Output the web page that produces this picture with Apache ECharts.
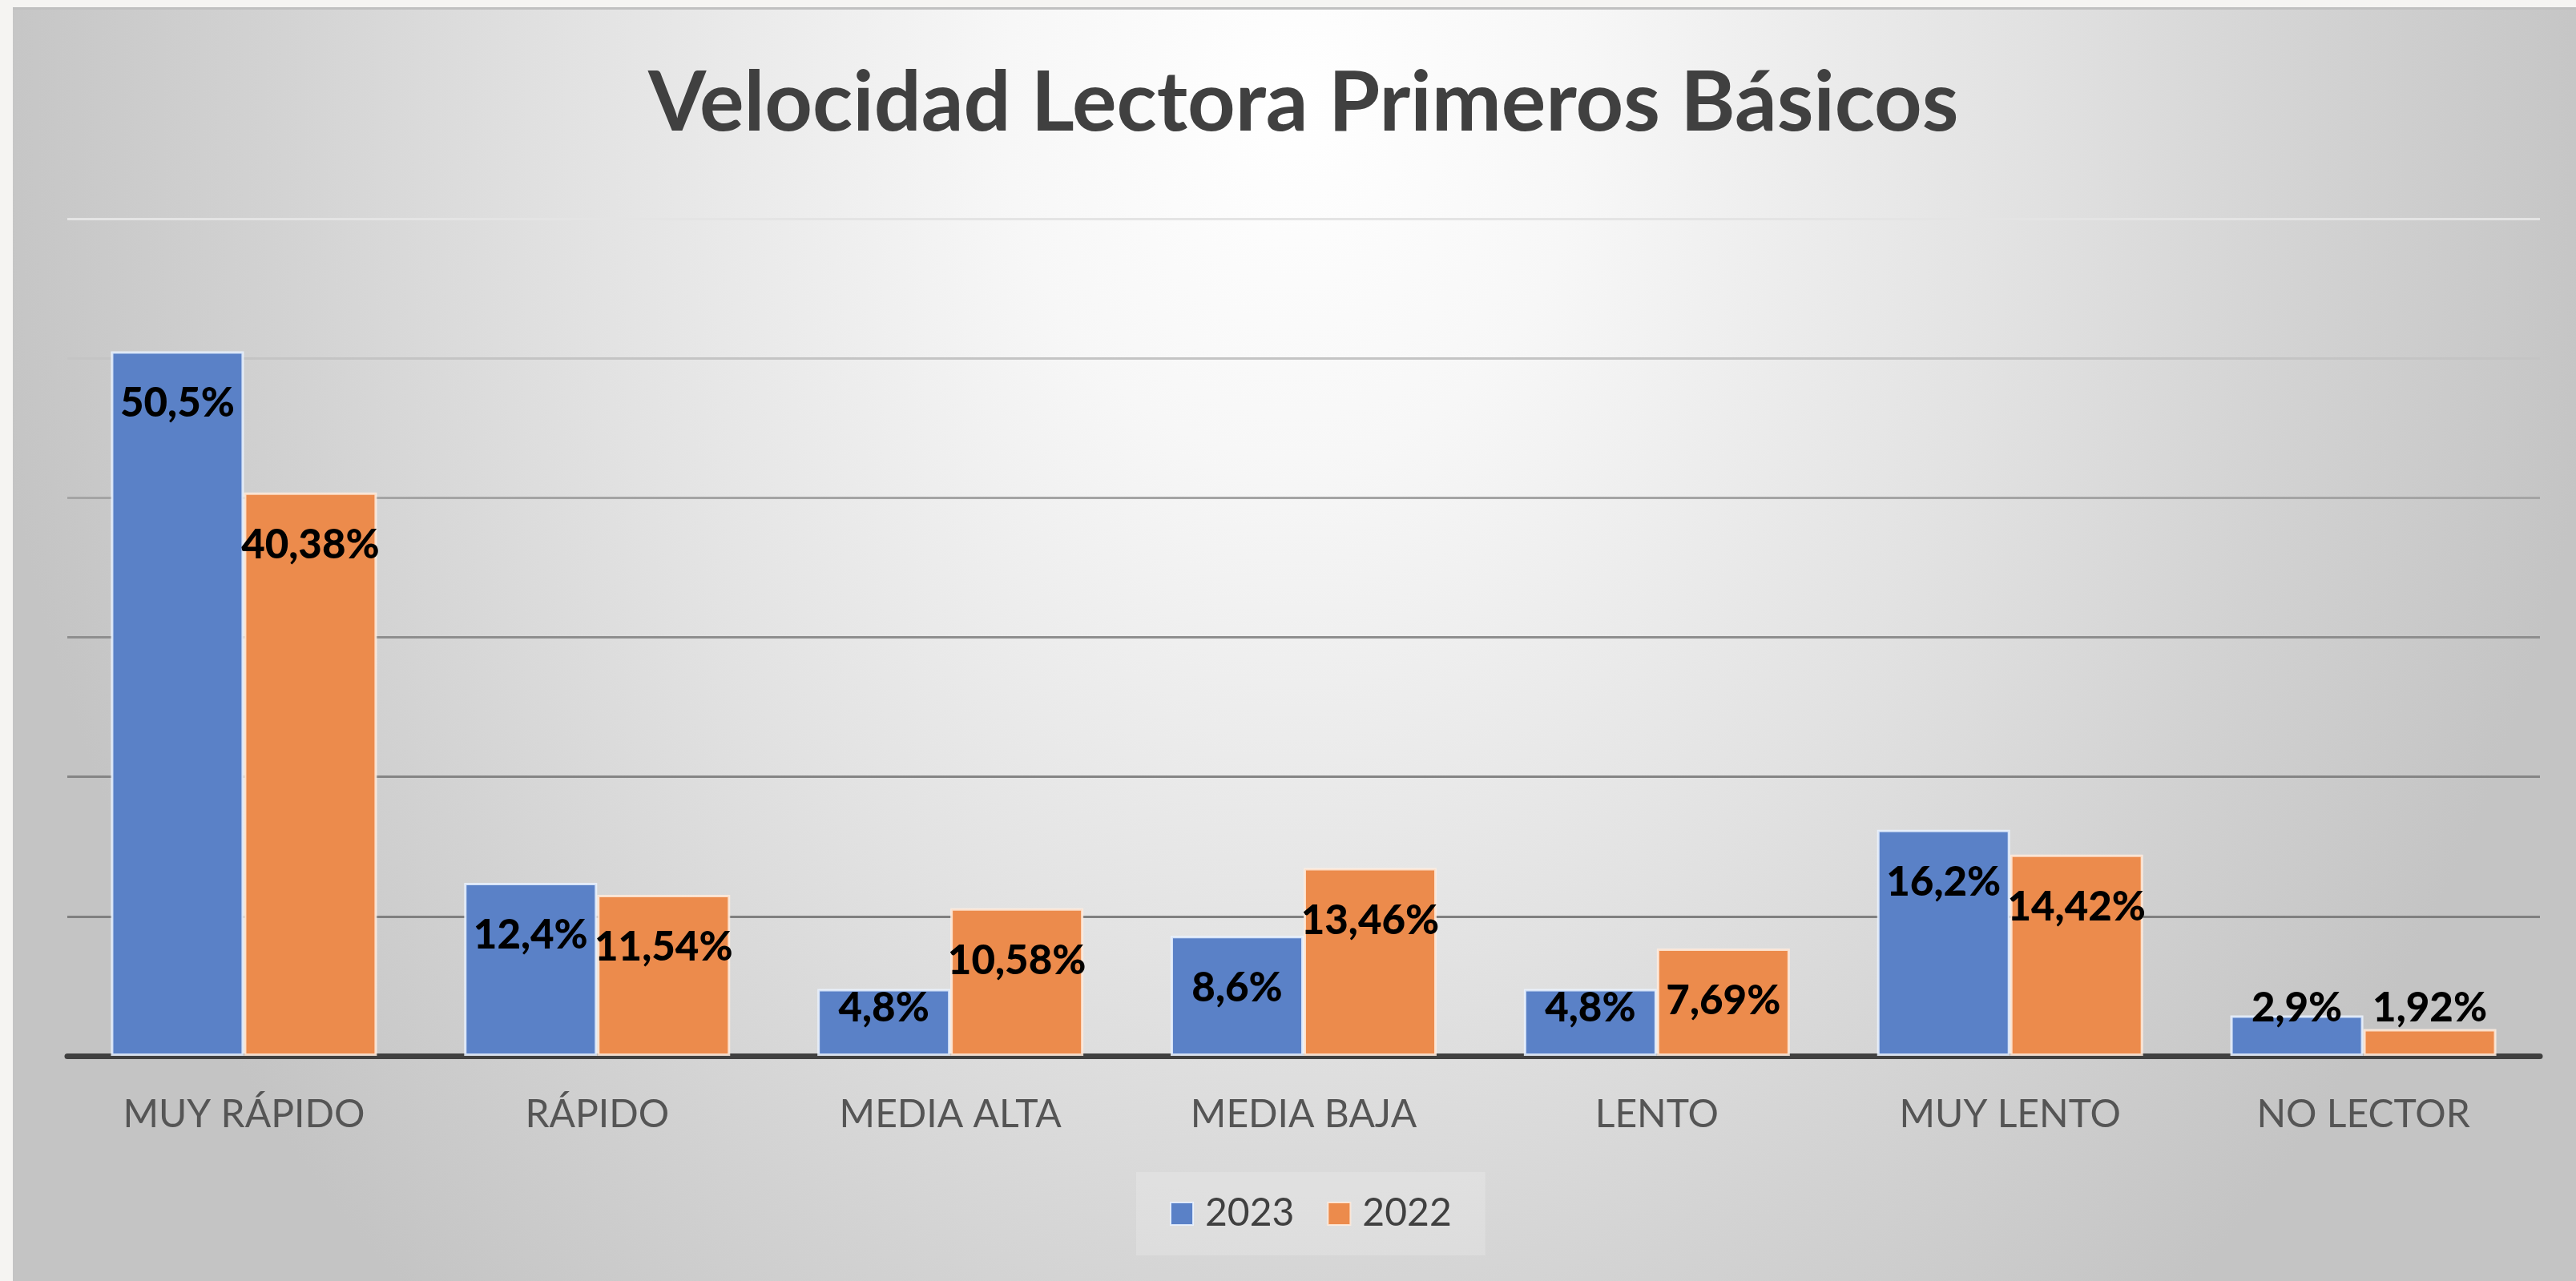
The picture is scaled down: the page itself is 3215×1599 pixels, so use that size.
<!DOCTYPE html>
<html>
<head>
<meta charset="utf-8">
<script src="https://cdn.jsdelivr.net/npm/echarts@6/dist/echarts.min.js"></script>
<style>
  html, body { margin: 0; padding: 0; width: 3215px; height: 1599px; background: #f5f4f2; overflow: hidden; }
  #chart {
    position: absolute; left: 16px; top: 9px; width: 3199px; height: 1590px;
    background: radial-gradient(ellipse 1650px 2000px at 1600px 120px, #ffffff 0%, #f7f7f7 22%, #e2e2e2 55%, #d2d2d2 78%, #c4c4c4 100%);
    border-top: 3px solid #c0c0c0; box-sizing: border-box;
  }
</style>
</head>
<body>
<div id="chart"></div>
<script>
const title = 'Velocidad Lectora Primeros Básicos';
const categories = ['MUY RÁPIDO', 'RÁPIDO', 'MEDIA ALTA', 'MEDIA BAJA', 'LENTO', 'MUY LENTO', 'NO LECTOR'];
const seriesNames = ['2023', '2022'];
const values2023 = [50.5, 12.4, 4.8, 8.6, 4.8, 16.2, 2.9];
const values2022 = [40.38, 11.54, 10.58, 13.46, 7.69, 14.42, 1.92];
const yTicks = [0, 10, 20, 30, 40, 50, 60];

const FONT = 'Lato, "Open Sans", sans-serif';

function mkData(vals) {
  return vals.map(v => ({
    value: v,
    label: v >= 6 ? { position: 'insideTop', distance: 40 } : { position: 'insideBottom', distance: 34 }
  }));
}
const labelStyle = {
  show: true,
  color: '#000000',
  fontFamily: FONT,
  fontWeight: 900,
  fontSize: 51,
  formatter: p => String(p.value).replace('.', ',') + '%'
};

const chart = echarts.init(document.getElementById('chart'), null, { renderer: 'canvas' });
chart.setOption({
  backgroundColor: 'transparent',
  animation: false,
  title: {
    text: title,
    left: 788,
    top: 60,
    textStyle: { fontFamily: FONT, fontWeight: 'bold', fontSize: 104, color: '#404040' }
  },
  legend: {
    data: seriesNames,
    left: 1402,
    top: 1451,
    padding: [28, 42],
    itemWidth: 28,
    itemHeight: 28,
    itemGap: 41,
    icon: 'rect',
    backgroundColor: 'rgba(255,255,255,0.18)',
    textStyle: { fontFamily: FONT, fontSize: 48, color: '#404040', padding: [0, 0, 0, 10] }
  },
  grid: { left: 68, right: 45, top: 261, bottom: 281, containLabel: false },
  xAxis: {
    type: 'category',
    data: categories,
    axisTick: { show: false },
    axisLine: { show: true, lineStyle: { color: '#404040', width: 7 } },
    axisLabel: { fontFamily: FONT, fontSize: 48, color: '#555555', margin: 50 }
  },
  yAxis: {
    type: 'value',
    min: yTicks[0],
    max: yTicks[yTicks.length - 1],
    interval: 10,
    axisLabel: { show: false },
    axisLine: { show: false },
    axisTick: { show: false },
    splitLine: {
      show: true,
      lineStyle: { width: 3, color: ['#808080', '#808080', '#858585', '#8e8e8e', '#a4a4a4', '#c4c4c4', '#e4e4e4'] }
    }
  },
  series: [
    {
      name: seriesNames[0],
      type: 'bar',
      data: mkData(values2023),
      barGap: '0%',
      barCategoryGap: '24.7%',
      itemStyle: { color: '#5a81c7', borderColor: 'rgba(235,243,255,0.85)', borderWidth: 3 },
      label: labelStyle,
      z: 3
    },
    {
      name: seriesNames[1],
      type: 'bar',
      data: mkData(values2022),
      barGap: '0%',
      barCategoryGap: '24.7%',
      itemStyle: { color: '#ec8b4c', borderColor: 'rgba(255,236,222,0.85)', borderWidth: 3 },
      label: labelStyle,
      z: 3
    }
  ]
});
</script>
</body>
</html>
